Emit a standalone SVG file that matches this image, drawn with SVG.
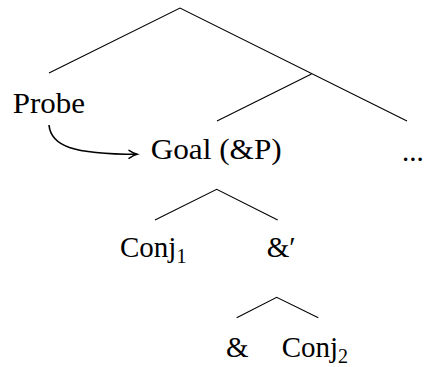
<svg xmlns="http://www.w3.org/2000/svg" width="425" height="367" viewBox="0 0 425 367">
<style>
text{font-family:"Liberation Serif","Times New Roman",serif;font-size:29px;fill:#000}
.sub{font-size:20px}
.e{stroke:#000;stroke-width:1.1;fill:none}
.arr{stroke:#000;stroke-width:1.6;fill:none}
</style>
<defs>
<marker id="ah" markerUnits="userSpaceOnUse" markerWidth="14" markerHeight="12" refX="0" refY="0" viewBox="-10 -6 12 12" orient="auto">
<path d="M-8,-4 Q-3,-0.8 0,0 Q-3,0.8 -8,4" stroke="#000" stroke-width="1.5" fill="none" stroke-linecap="round"/>
</marker>
</defs>
<g id="connectors">
<path class="e" d="M49,73 L180,8 L407,121"/>
<path class="e" d="M217,121 L311.5,74"/>
<path class="e" d="M155,220 L216.7,189.3 L277.7,220"/>
<path class="e" d="M236.7,317.7 L276.7,297.3 L318.3,317.7"/>
<path class="arr" d="M49,125 C51,146 72,154 137,154.3" marker-end="url(#ah)"/>
</g>
<g id="probe"><text x="12.7" y="113.3" font-family="Liberation Serif, serif" textLength="72.3" lengthAdjust="spacingAndGlyphs">Probe</text></g>
<g id="goal"><text x="150.7" y="159.3" font-family="Liberation Serif, serif" textLength="131" lengthAdjust="spacingAndGlyphs">Goal (&amp;P)</text></g>
<g id="dots"><text x="402" y="161" font-family="Liberation Serif, serif">...</text></g>
<g id="conj1"><text x="120" y="256.7" font-family="Liberation Serif, serif">Conj<tspan class="sub" dy="6">1</tspan></text></g>
<g id="ampbar"><text x="266.7" y="256.7" font-family="Liberation Serif, serif">&amp;′</text></g>
<g id="amp"><text x="226" y="356.7" font-family="Liberation Serif, serif">&amp;</text></g>
<g id="conj2"><text x="281.7" y="356.7" font-family="Liberation Serif, serif">Conj<tspan class="sub" dy="6">2</tspan></text></g>
</svg>
